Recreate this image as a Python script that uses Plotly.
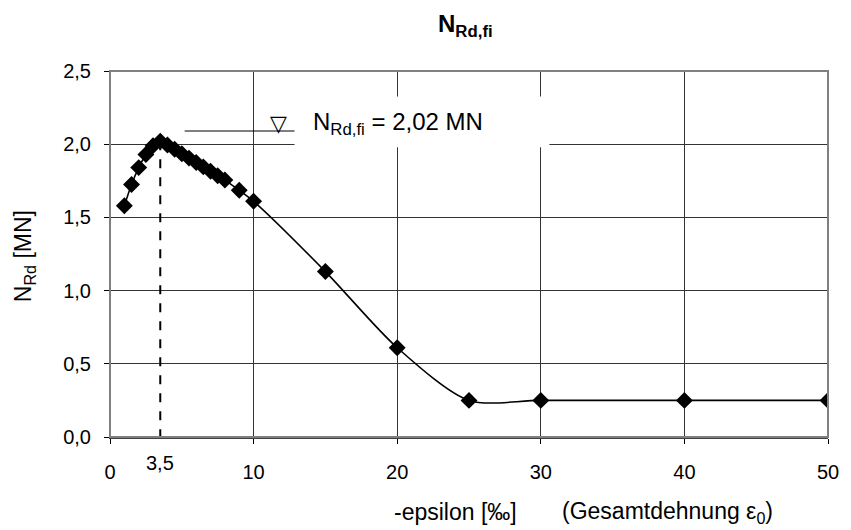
import plotly.graph_objects as go

# data
eps = [1, 1.5, 2, 2.5, 3, 3.5, 4, 4.5, 5, 5.5, 6, 6.5, 7, 7.5, 8, 9, 10, 15, 20, 25, 30, 40, 50]
n_rd = [1.58, 1.725, 1.84, 1.93, 1.99, 2.02, 1.995, 1.965, 1.935, 1.905, 1.875, 1.845, 1.815, 1.785, 1.755, 1.685, 1.61,
        1.13, 0.61, 0.25, 0.25, 0.25, 0.25]
x_ticks = [0, 10, 20, 30, 40, 50]
y_ticks = [0.0, 0.5, 1.0, 1.5, 2.0, 2.5]
eps_peak = 3.5
n_peak = 2.02

FONT = "Liberation Sans, Arial, sans-serif"
L, R, T, B = 110, 838, 71, 437
PW, PH = R - L, B - T

fig = go.Figure()
fig.add_trace(go.Scatter(
    x=eps, y=n_rd, mode="lines+markers",
    line=dict(color="black", width=1.6, shape="spline", smoothing=0.8),
    marker=dict(symbol="diamond", size=13, color="black"),
    showlegend=False, hoverinfo="x+y",
))
# dashed line at peak
fig.add_trace(go.Scatter(
    x=[eps_peak, eps_peak], y=[n_peak, 0], mode="lines",
    line=dict(color="black", width=2, dash="dash"), showlegend=False, hoverinfo="skip",
))

shapes = [
    # white box behind label
    dict(type="rect", xref="x", yref="y", x0=12.85, x1=30.6, y0=1.98, y1=2.325,
         fillcolor="white", line=dict(width=0), layer="between"),
    # annotation leader line
    dict(type="line", xref="x", yref="y", x0=5.2, x1=12.85, y0=2.09, y1=2.09,
         line=dict(color="black", width=1.2), layer="above"),
    # plot frame (top/right gray)
    dict(type="rect", xref="paper", yref="paper", x0=0, x1=1, y0=0, y1=1,
         line=dict(color="#808080", width=2), layer="above"),
]

annotations = [
    dict(text="<b>N<sub>Rd,fi</sub></b>", xref="paper", yref="paper", x=(470 - L) / PW, y=1 + (T - 25) / PH,
         showarrow=False, font=dict(family=FONT, size=24, color="black"), xanchor="center", yanchor="middle"),
    dict(text="N<sub>Rd</sub> [MN]", xref="paper", yref="paper", x=(23 - L) / PW, y=(B - 256) / PH,
         textangle=-90, showarrow=False, font=dict(family=FONT, size=23, color="black"),
         xanchor="center", yanchor="middle"),
    dict(text="-epsilon [‰]", xref="paper", yref="paper", x=(460 - L) / PW, y=-(512 - B) / PH,
         showarrow=False, font=dict(family=FONT, size=23, color="black"), xanchor="center", yanchor="middle"),
    dict(text="(Gesamtdehnung ε<sub>0</sub>)", xref="paper", yref="paper", x=(675 - L) / PW, y=-(512 - B) / PH,
         showarrow=False, font=dict(family=FONT, size=23, color="black"), xanchor="center", yanchor="middle"),
    dict(text="3,5", xref="x", yref="paper", x=eps_peak, y=-(463 - B) / PH,
         showarrow=False, font=dict(family=FONT, size=20, color="black"), xanchor="center", yanchor="middle"),
    dict(text="▽", xref="x", yref="y", x=11.7, y=2.09, showarrow=False,
         font=dict(family="DejaVu Sans", size=22, color="black"), xanchor="center", yanchor="bottom", yshift=-7),
    dict(text="N<sub>Rd,fi</sub> = 2,02 MN", xref="x", yref="y", x=14.2, y=2.14, showarrow=False,
         font=dict(family=FONT, size=24, color="black"), xanchor="left", yanchor="middle", xshift=-3),
]

fig.update_layout(
    width=851, height=530,
    margin=dict(l=L, r=851 - R, t=T, b=530 - B),
    paper_bgcolor="white", plot_bgcolor="white",
    separators=",.",
    font=dict(family=FONT, size=20, color="black"),
    shapes=shapes, annotations=annotations,
    showlegend=False,
)
fig.update_xaxes(
    range=[0, 50], tickvals=x_ticks, ticktext=[str(v) for v in x_ticks],
    showgrid=True, gridcolor="#333333", gridwidth=1,
    ticks="outside", ticklen=5, tickcolor="black",
    showline=True, linecolor="#404040", linewidth=2,
    zeroline=False, ticklabelstandoff=11,
    tickfont=dict(family=FONT, size=20, color="black"),
)
fig.update_yaxes(
    range=[0, 2.5], tickvals=y_ticks, tickformat=".1f",
    showgrid=True, gridcolor="#333333", gridwidth=1,
    ticks="outside", ticklen=5, tickcolor="black",
    showline=True, linecolor="black", linewidth=1,
    zeroline=False, ticklabelstandoff=9,
    tickfont=dict(family=FONT, size=20, color="black"),
)

fig.write_html("out.html")
